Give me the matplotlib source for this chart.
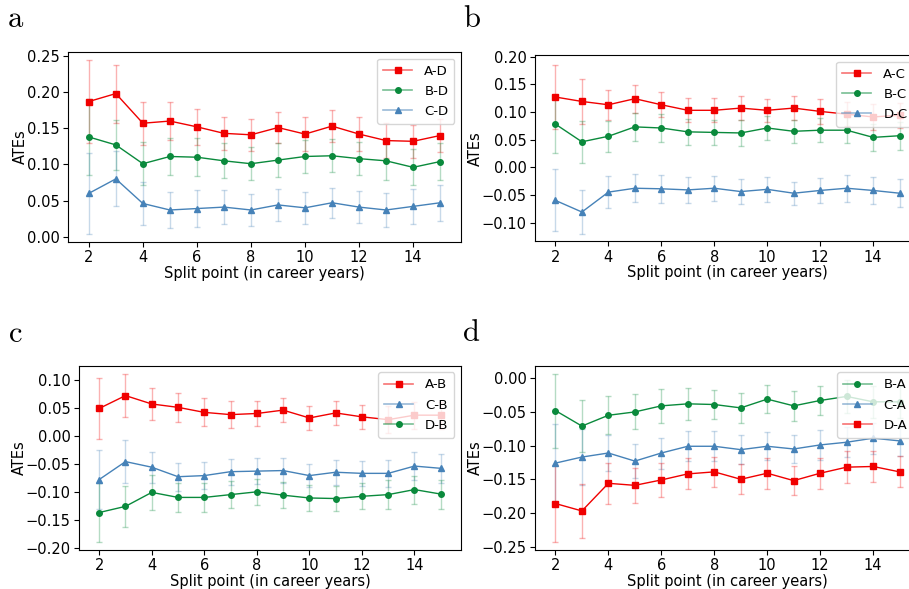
import numpy as np
import matplotlib
matplotlib.use("Agg")
import matplotlib.pyplot as plt
from matplotlib.lines import Line2D
from matplotlib.colors import to_rgba

plt.rcParams['mathtext.fontset'] = 'cm'
plt.rcParams['font.family'] = ['DejaVu Sans']

split_points = [2, 3, 4, 5, 6, 7, 8, 9, 10, 11, 12, 13, 14, 15]

# Panel a
ad = [0.187, 0.198, 0.157, 0.160, 0.152, 0.143, 0.141, 0.151, 0.142, 0.153, 0.142, 0.133, 0.132, 0.140]
ad_err = [0.057, 0.040, 0.030, 0.026, 0.025, 0.023, 0.022, 0.022, 0.023, 0.022, 0.023, 0.024, 0.023, 0.023]
bd = [0.138, 0.127, 0.101, 0.111, 0.110, 0.105, 0.101, 0.106, 0.111, 0.112, 0.108, 0.105, 0.096, 0.104]
bd_err = [0.052, 0.035, 0.030, 0.026, 0.026, 0.024, 0.023, 0.023, 0.023, 0.023, 0.023, 0.026, 0.025, 0.026]
cd = [0.060, 0.080, 0.046, 0.037, 0.039, 0.041, 0.037, 0.044, 0.040, 0.047, 0.041, 0.037, 0.042, 0.047]
cd_err = [0.056, 0.038, 0.030, 0.025, 0.025, 0.023, 0.022, 0.022, 0.022, 0.021, 0.022, 0.024, 0.024, 0.025]

# Panel b
ac = [0.127, 0.119, 0.113, 0.124, 0.113, 0.103, 0.103, 0.107, 0.103, 0.107, 0.101, 0.096, 0.091, 0.094]
ac_err = [0.058, 0.041, 0.027, 0.025, 0.023, 0.022, 0.022, 0.022, 0.021, 0.021, 0.022, 0.022, 0.023, 0.023]
bc = [0.078, 0.046, 0.056, 0.073, 0.071, 0.064, 0.063, 0.062, 0.071, 0.065, 0.067, 0.067, 0.054, 0.057]
bc_err = [0.052, 0.038, 0.028, 0.025, 0.025, 0.024, 0.023, 0.023, 0.021, 0.021, 0.022, 0.023, 0.025, 0.025]
dc = [-0.060, -0.081, -0.045, -0.038, -0.039, -0.041, -0.038, -0.044, -0.040, -0.047, -0.042, -0.038, -0.042, -0.047]
dc_err = [0.056, 0.039, 0.029, 0.025, 0.025, 0.023, 0.023, 0.022, 0.022, 0.021, 0.022, 0.024, 0.024, 0.025]

# Panel c
ab = [0.049, 0.072, 0.057, 0.051, 0.042, 0.038, 0.040, 0.046, 0.032, 0.041, 0.034, 0.029, 0.037, 0.037]
ab_err = [0.055, 0.039, 0.028, 0.026, 0.025, 0.024, 0.022, 0.022, 0.021, 0.022, 0.022, 0.024, 0.024, 0.024]
cb = [-0.078, -0.046, -0.056, -0.073, -0.071, -0.064, -0.063, -0.062, -0.071, -0.065, -0.067, -0.067, -0.054, -0.058]
cb_err = [0.052, 0.038, 0.028, 0.025, 0.024, 0.023, 0.023, 0.023, 0.021, 0.022, 0.022, 0.024, 0.025, 0.026]
db = [-0.137, -0.126, -0.101, -0.110, -0.110, -0.105, -0.100, -0.106, -0.111, -0.112, -0.108, -0.105, -0.096, -0.104]
db_err = [0.052, 0.036, 0.031, 0.026, 0.026, 0.024, 0.023, 0.023, 0.023, 0.023, 0.023, 0.026, 0.025, 0.026]

# Panel d
ba = [-0.048, -0.071, -0.055, -0.050, -0.041, -0.038, -0.039, -0.044, -0.031, -0.041, -0.033, -0.027, -0.035, -0.035]
ba_err = [0.055, 0.039, 0.028, 0.026, 0.025, 0.024, 0.022, 0.022, 0.021, 0.022, 0.022, 0.024, 0.024, 0.024]
ca = [-0.126, -0.117, -0.111, -0.123, -0.111, -0.101, -0.101, -0.106, -0.101, -0.105, -0.099, -0.095, -0.089, -0.093]
ca_err = [0.058, 0.041, 0.027, 0.025, 0.023, 0.022, 0.022, 0.022, 0.021, 0.021, 0.022, 0.022, 0.023, 0.023]
da = [-0.186, -0.197, -0.156, -0.159, -0.151, -0.142, -0.139, -0.150, -0.141, -0.152, -0.141, -0.132, -0.131, -0.139]
da_err = [0.057, 0.040, 0.030, 0.026, 0.025, 0.023, 0.022, 0.022, 0.023, 0.022, 0.023, 0.024, 0.023, 0.023]

yticks_a = [0.00, 0.05, 0.10, 0.15, 0.20, 0.25]
yticks_b = [-0.10, -0.05, 0.00, 0.05, 0.10, 0.15, 0.20]
yticks_c = [-0.20, -0.15, -0.10, -0.05, 0.00, 0.05, 0.10]
yticks_d = [-0.25, -0.20, -0.15, -0.10, -0.05, 0.00]

RED = '#f00000'
GREEN = '#0a8a3c'
BLUE = '#4682b8'
style = {
    'A': (RED, 's', 4.2),
    'B': (GREEN, 'o', 4.0),
    'C': (BLUE, '^', 4.5),
}

panels = [
    ('a', [0.0748, 0.5891, 0.4323, 0.3226], [('A-D', ad, ad_err, 'A'), ('B-D', bd, bd_err, 'B'), ('C-D', cd, cd_err, 'C')],
     yticks_a, (-0.0073, 0.2555), (0.0176, 0.968)),
    ('b', [0.5886, 0.5903, 0.4235, 0.3163], [('A-C', ac, ac_err, 'A'), ('B-C', bc, bc_err, 'B'), ('D-C', dc, dc_err, 'C')],
     yticks_b, (-0.134, 0.203), (0.519, 0.968)),
    ('c', [0.0869, 0.0662, 0.4202, 0.3129], [('A-B', ab, ab_err, 'A'), ('C-B', cb, cb_err, 'C'), ('D-B', db, db_err, 'B')],
     yticks_c, (-0.204, 0.1254), (0.0165, 0.4346)),
    ('d', [0.5886, 0.0662, 0.4235, 0.3129], [('B-A', ba, ba_err, 'B'), ('C-A', ca, ca_err, 'C'), ('D-A', da, da_err, 'A')],
     yticks_d, (-0.255, 0.0186), (0.518, 0.436)),
]

fig = plt.figure(figsize=(9.09, 5.89), dpi=100)
FS = 10.5
for letter, rect, series, yt, ylim, lpos in panels:
    ax = fig.add_axes(rect)
    handles = []
    for name, vals, errs, key in series:
        c, m, ms = style[key]
        ax.errorbar(split_points, vals, yerr=errs, fmt='none', ecolor=c, alpha=0.3,
                    elinewidth=1.0, capsize=2.2, capthick=1.0, zorder=1)
    for name, vals, errs, key in series:
        c, m, ms = style[key]
        ax.plot(split_points, vals, color=c, marker=m, markersize=ms, linewidth=1.0, zorder=3)
        handles.append(Line2D([], [], color=to_rgba(c, 0.55), linewidth=1.2, marker=m,
                              markersize=ms, markerfacecolor=c, markeredgecolor=c, label=name))
    ax.set_xlim(1.23, 15.77)
    ax.set_ylim(*ylim)
    ax.set_xticks([2, 4, 6, 8, 10, 12, 14])
    ax.set_yticks(yt)
    ax.set_yticklabels([f"{v:.2f}".replace('-', '\u2212') for v in yt])
    ax.tick_params(labelsize=FS, pad=2.5)
    ax.set_xlabel('Split point (in career years)', fontsize=FS, labelpad=0.5)
    ax.set_ylabel('ATEs', fontsize=FS, labelpad=-1)
    ax.legend(handles=handles, loc='upper right', fontsize=9.5, handlelength=2.2,
              handletextpad=0.9, borderpad=0.45, labelspacing=0.55)
    fig.text(lpos[0], lpos[1], r'$\mathrm{' + letter + '}$', fontsize=22, ha='center', va='center')

fig.savefig('out.png', dpi=100)
